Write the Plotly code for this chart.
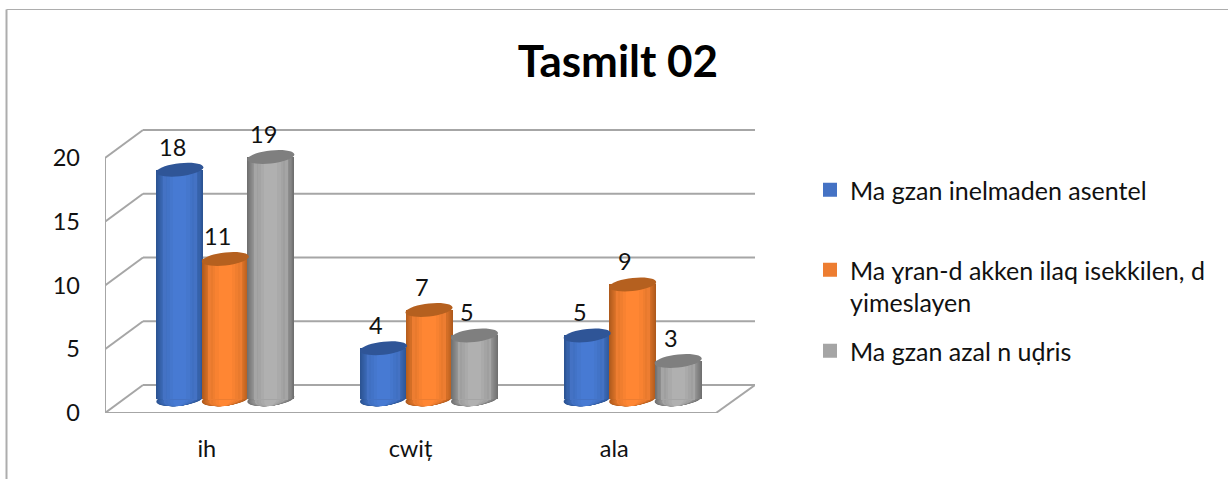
"""Tasmilt 02: Excel-style 3D cylinder column chart rebuilt in Plotly."""
import numpy as np
import plotly.graph_objects as go

CATEGORIES = ["ih", "cwiț", "ala"]
SERIES_NAMES = ["Ma gzan inelmaden asentel", "Ma ɣran-d akken ilaq isekkilen, d<br>yimeslayen", "Ma gzan azal n uḍris"]
VALUES_A = [18, 4, 5]
VALUES_B = [11, 7, 9]
VALUES_C = [19, 5, 3]
Y_TICKS = [0, 5, 10, 15, 20]

FONT = "Lato, Carlito, sans-serif"
GRID = "#A6A6A6"
TEXT = "#111111"

# (edge, centre, top cap, legend swatch)
PALETTE = [
    ("#2C5493", "#477AD3", "#2F5597", "#4472C4"),
    ("#AF5A1C", "#FF8633", "#B5601F", "#ED7D31"),
    ("#707070", "#B0B0B0", "#7F7F7F", "#A5A5A5"),
]

# pixel geometry of the plot, the rest of the file works in axis units
PLOT_L, PLOT_R, PLOT_T, PLOT_B = 105, 755, 129, 413
PX_X = 611 / 3          # px per category
PX_Y = 12.75            # px per value unit
DEPTH_X = 38 / PX_X     # floor depth, front edge to back wall
DEPTH_Y = 28 / PX_Y
BASE = 1.08             # columns stand in the middle of the floor
BAR_W = 47 / PX_X
OFFSETS = [-27 / PX_X, 18.5 / PX_X, 64 / PX_X]
LAYERS = [1.0, 0.96, 0.92, 0.88, 0.84, 0.79, 0.74, 0.68, 0.61, 0.53, 0.42, 0.28]
LEGEND_LAYER = 7
LEGEND_TOPS = [167, 247, 328]
X_MIN, X_MAX = -0.5, -0.5 + (PLOT_R - PLOT_L) / PX_X
Y_MAX = (PLOT_B - PLOT_T) / PX_Y
X_FRONT_END = 2.5


def blend(a, b, t):
    ca = [int(a[i:i + 2], 16) for i in (1, 3, 5)]
    cb = [int(b[i:i + 2], 16) for i in (1, 3, 5)]
    return "#%02x%02x%02x" % tuple(round(p + (q - p) * t) for p, q in zip(ca, cb))


def ellipse_path(cx, cy, half_w, half_h=6.5, tilt=2.5):
    """Slightly tilted ellipse as an svg path, sizes in px, centre in data units."""
    pts = []
    for t in np.linspace(0, 2 * np.pi, 36, endpoint=False):
        x = cx + half_w * np.cos(t) / PX_X
        y = cy + (half_h * np.sin(t) + tilt * np.cos(t)) / PX_Y
        pts.append(f"{x:.4f} {y:.4f}")
    return "M " + " L ".join(pts) + " Z"


def line(x0, y0, x1, y1):
    return dict(type="line", x0=x0, y0=y0, x1=x1, y1=y1, xref="x", yref="y",
                line=dict(color=GRID, width=2), layer="below")


def legend_at(top):
    return dict(xref="container", yref="container", x=810 / 1228, y=1 - top / 479,
                xanchor="left", yanchor="top", valign="top", bgcolor="rgba(0,0,0,0)",
                font=dict(family=FONT, size=25, color=TEXT))


fig = go.Figure()
shapes = []

# walls and floor
x_back = X_MIN + DEPTH_X
for v in Y_TICKS:
    shapes.append(line(X_MIN, v, x_back, v + DEPTH_Y))
    shapes.append(line(x_back, v + DEPTH_Y, X_MAX, v + DEPTH_Y))
shapes.append(line(X_MIN, 0, X_MIN, Y_TICKS[-1]))
shapes.append(line(X_MIN, 0, X_FRONT_END, 0))
shapes.append(line(X_FRONT_END, 0, X_MAX, DEPTH_Y))

for s, values in enumerate([VALUES_A, VALUES_B, VALUES_C]):
    edge, centre, cap, swatch = PALETTE[s]
    for j, frac in enumerate(LAYERS):
        color = blend(edge, centre, j / (len(LAYERS) - 1))
        in_legend = j == LEGEND_LAYER
        if in_legend:
            color = swatch
        w = BAR_W * frac
        fig.add_trace(go.Bar(
            x=[0, 1, 2], y=values, base=BASE, width=w, offset=OFFSETS[s] - w / 2,
            # the 2px outline only widens the legend swatch to the 14px of the original
            marker=dict(color=color, line=dict(width=2 if in_legend else 0, color=color)),
            name=SERIES_NAMES[s], showlegend=in_legend,
            legend="legend" if s == 0 else f"legend{s + 1}",
            hoverinfo=None if in_legend else "skip",
        ))
        for i in range(len(values)):
            shapes.append(dict(
                type="path", xref="x", yref="y", layer="below", line=dict(width=0),
                fillcolor=color,
                path=ellipse_path(i + OFFSETS[s], BASE, 23.5 * frac),
            ))
    for i, v in enumerate(values):
        shapes.append(dict(
            type="path", xref="x", yref="y", layer="above", line=dict(width=0),
            fillcolor=cap, path=ellipse_path(i + OFFSETS[s], v + BASE, 23.5),
        ))
        fig.add_annotation(
            x=i + OFFSETS[s], y=v + BASE, text=str(v), showarrow=False,
            xshift=-7.5, yshift=23, yanchor="middle",
            font=dict(family=FONT, size=23.5, color=TEXT),
        )

# chart frame, left and top edges only
frame_x = (6.5 - PLOT_L) / (PLOT_R - PLOT_L)
frame_y = (PLOT_B - 9.5) / (PLOT_B - PLOT_T)
shapes.append(dict(type="line", xref="paper", yref="paper", x0=frame_x, x1=frame_x,
                   y0=(PLOT_B - 479) / (PLOT_B - PLOT_T), y1=frame_y,
                   line=dict(color="#ADADAD", width=2)))
shapes.append(dict(type="line", xref="paper", yref="paper", x0=frame_x,
                   x1=(1228 - PLOT_L) / (PLOT_R - PLOT_L), y0=frame_y, y1=frame_y,
                   line=dict(color="#ADADAD", width=1)))

fig.update_layout(
    width=1228, height=479,
    margin=dict(l=PLOT_L, r=1228 - PLOT_R, t=PLOT_T, b=479 - PLOT_B),
    paper_bgcolor="white", plot_bgcolor="rgba(0,0,0,0)",
    barmode="overlay", bargap=0,
    title=dict(text="<b>Tasmilt 02</b>", x=618 / 1228, y=1 - 62 / 479, xanchor="center", yanchor="middle",
               font=dict(family=FONT, size=44, color="#000000")),
    font=dict(family=FONT, size=23.5, color=TEXT),
    xaxis=dict(range=[X_MIN, X_MAX], tickvals=[0, 1, 2], ticktext=CATEGORIES, showgrid=False,
               zeroline=False, showline=False, ticks="", ticklabelstandoff=19,
               tickfont=dict(family=FONT, size=23.5, color=TEXT)),
    yaxis=dict(range=[0, Y_MAX], tickvals=Y_TICKS, showgrid=False, zeroline=False, showline=False,
               ticks="", ticklabelstandoff=24, tickfont=dict(family=FONT, size=23.5, color=TEXT)),
    legend=legend_at(LEGEND_TOPS[0]),
    legend2=legend_at(LEGEND_TOPS[1]),
    legend3=legend_at(LEGEND_TOPS[2]),
    shapes=shapes,
)

# the page's default 8px body margin would push the frame out of place
fig.write_html("out.html", config={"displayModeBar": False},
               post_script="document.body.style.margin = '0';")
